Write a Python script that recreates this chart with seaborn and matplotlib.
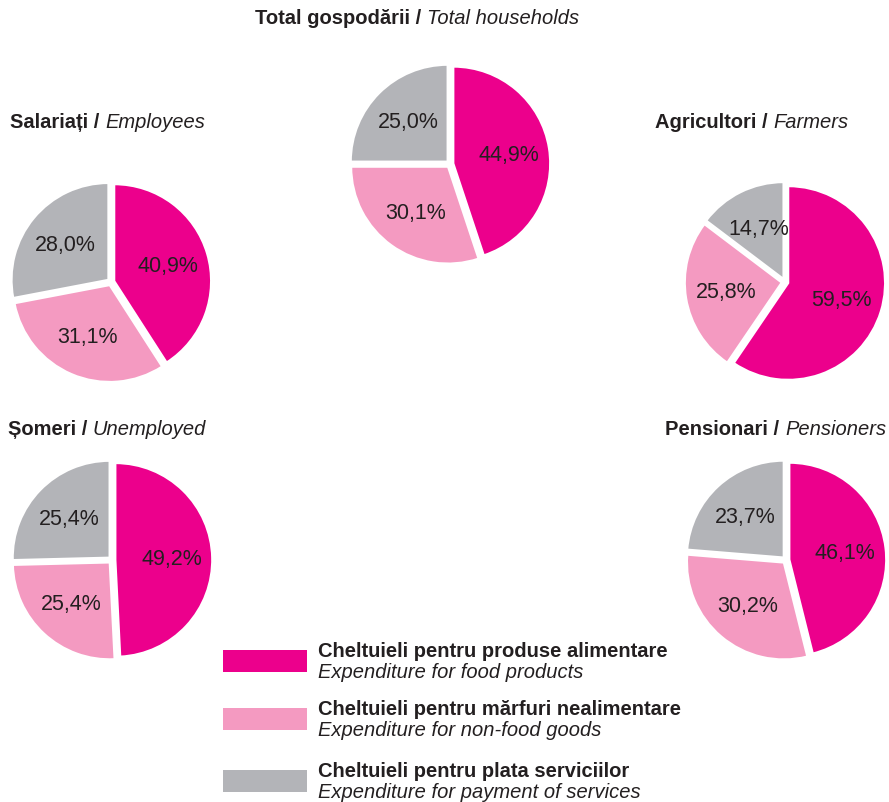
import matplotlib
matplotlib.use("Agg")
import matplotlib.pyplot as plt
from matplotlib.patches import Rectangle
import seaborn as sns

# household groups (Romanian / English)
groups_ro = ["Total gospodării", "Salariați", "Agricultori", "Șomeri", "Pensionari"]
groups_en = ["Total households", "Employees", "Farmers", "Unemployed", "Pensioners"]

# expenditure shares, %
food = [44.9, 40.9, 59.5, 49.2, 46.1]
nonfood = [30.1, 31.1, 25.8, 25.4, 30.2]
services = [25.0, 28.0, 14.7, 25.4, 23.7]

legend_ro = ["Cheltuieli pentru produse alimentare",
             "Cheltuieli pentru mărfuri nealimentare",
             "Cheltuieli pentru plata serviciilor"]
legend_en = ["Expenditure for food products",
             "Expenditure for non-food goods",
             "Expenditure for payment of services"]

colors = ["#EC008C", "#F49AC1", "#B3B4B8"]
txt_color = "#231F20"

sns.set_theme(style="white")
plt.rcParams['font.family'] = ['Liberation Sans', 'DejaVu Sans']

W, H = 889, 803
fig = plt.figure(figsize=(W / 100, H / 100), dpi=100)
renderer = fig.canvas.get_renderer()

# pie centre x, y / title x, y, alignment  (pixels from top-left)
layout = [
    (450, 165, 417, 19, 'center'),
    (111, 283, 10, 123, 'left'),
    (785, 283, 655, 123, 'left'),
    (112, 561, 8, 430, 'left'),
    (786, 561, 886, 430, 'right'),
]
size = 213  # axes size in px


def fmt(p):
    return f"{p:.1f}%".replace('.', ',')


def mixed_title(x, y, bold, ital, ha, fs=14.5):
    t1 = fig.text(0, 0, bold + " / ", weight='bold', fontsize=fs,
                  color=txt_color, va='center')
    t2 = fig.text(0, 0, ital, style='italic', fontsize=fs,
                  color=txt_color, va='center')
    w1 = t1.get_window_extent(renderer).width
    w2 = t2.get_window_extent(renderer).width
    if ha == 'left':
        x0 = x
    elif ha == 'right':
        x0 = x - w1 - w2
    else:
        x0 = x - (w1 + w2) / 2
    t1.set_position((x0 / W, 1 - y / H))
    t2.set_position(((x0 + w1) / W, 1 - y / H))


for i, (cx, cy, tx, ty, ha) in enumerate(layout):
    ax = fig.add_axes([(cx - size / 2) / W, 1 - (cy + size / 2) / H,
                       size / W, size / H])
    vals = [food[i], nonfood[i], services[i]]
    ax.pie(vals, colors=colors, startangle=90, counterclock=False,
           explode=[0.035] * 3, autopct=fmt, pctdistance=0.58,
           wedgeprops=dict(edgecolor='white', linewidth=1.5),
           textprops=dict(fontsize=15.5, color=txt_color))
    ax.set_xlim(-1.1, 1.1)
    ax.set_ylim(-1.1, 1.1)
    ax.set_aspect('equal')
    ax.axis('off')
    mixed_title(tx, ty, groups_ro[i], groups_en[i], ha)

# legend drawn by hand (two-line bold/italic entries)
rect_y = [662, 720, 782]
for j in range(3):
    fig.add_artist(Rectangle((223 / W, 1 - (rect_y[j] + 11) / H), 84 / W, 22 / H,
                             transform=fig.transFigure, color=colors[j], lw=0))
    fig.text(318 / W, 1 - (rect_y[j] - 10) / H, legend_ro[j], weight='bold',
             fontsize=14.5, color=txt_color, va='center')
    fig.text(318 / W, 1 - (rect_y[j] + 11) / H, legend_en[j], style='italic',
             fontsize=14.5, color=txt_color, va='center')

fig.savefig("out.png", dpi=100, facecolor='white')
